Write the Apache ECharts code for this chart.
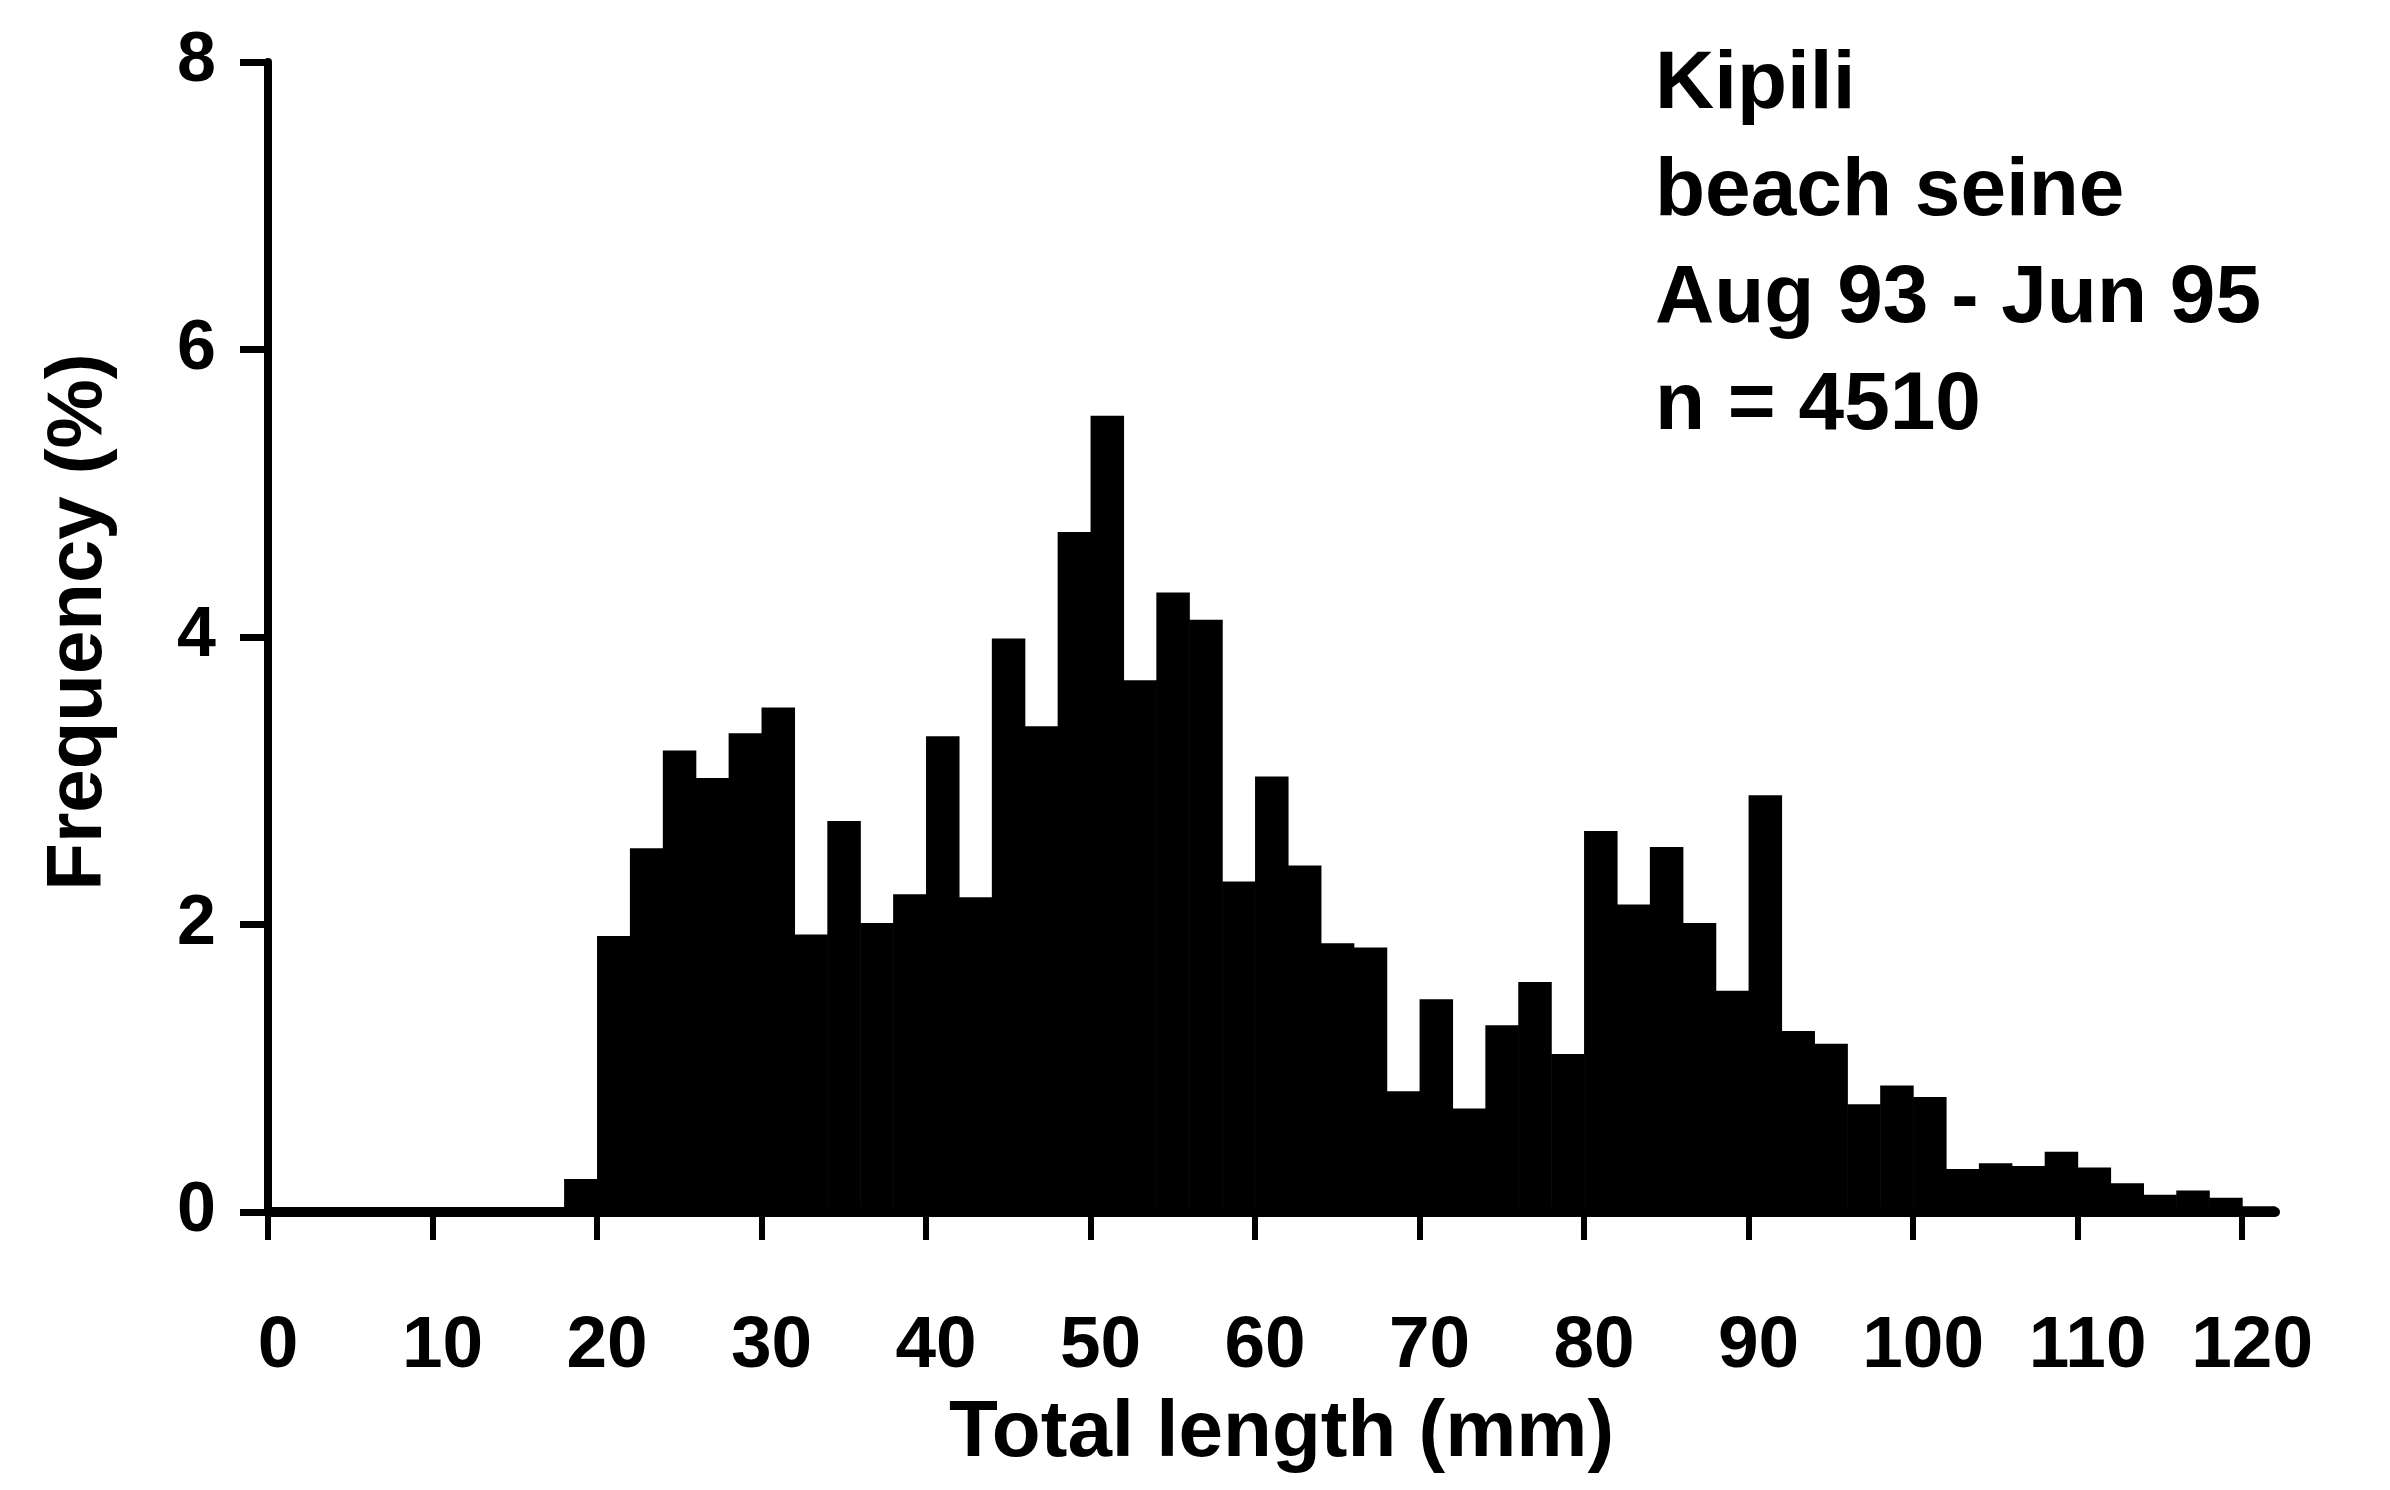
<!DOCTYPE html>
<html>
<head>
<meta charset="utf-8">
<script src="https://cdn.jsdelivr.net/npm/echarts@6/dist/echarts.min.js"></script>
<style>
html,body{margin:0;padding:0;background:#fff;}
#chart{width:2390px;height:1490px;}
</style>
</head>
<body>
<div id="chart"></div>
<script>
// Histogram bin starts (mm), bin width 2 mm
var binStarts = [0,2,4,6,8,10,12,14,16,18,20,22,24,26,28,30,32,34,36,38,40,42,44,46,48,50,52,54,56,58,60,62,64,66,68,70,72,74,76,78,80,82,84,86,88,90,92,94,96,98,100,102,104,106,108,110,112,114,116,118,120];
var binWidth = 2;
// Frequency (%) per bin
var frequency = [0,0,0,0,0,0,0,0,0,0.23,1.92,2.53,3.21,3.02,3.33,3.51,1.93,2.72,2.01,2.21,3.31,2.19,3.99,3.38,4.73,5.54,3.70,4.31,4.12,2.30,3.03,2.41,1.87,1.84,0.84,1.48,0.72,1.30,1.60,1.10,2.65,2.14,2.54,2.01,1.54,2.90,1.26,1.17,0.75,0.88,0.80,0.30,0.34,0.32,0.42,0.31,0.20,0.12,0.15,0.10,0.04];
var xTicks = [0,10,20,30,40,50,60,70,80,90,100,110,120];
var yTicks = [0,2,4,6,8];
var infoLines = ['Kipili','beach seine','Aug 93 - Jun 95','n = 4510'];

var FONT = 'Liberation Sans';
var data = binStarts.map(function(s,i){ return [s, s + binWidth, frequency[i]]; });

var chart = echarts.init(document.getElementById('chart'));
var infoGraphics = infoLines.map(function(t, i){
  return {
    type: 'text',
    left: 1655,
    top: 44 + i * 107,
    style: { text: t, font: 'bold 82px "' + FONT + '"', fill: '#000' }
  };
});

chart.setOption({
  animation: false,
  backgroundColor: '#fff',
  grid: { left: 268, right: 115, top: 62, bottom: 278, containLabel: false },
  xAxis: {
    type: 'value', min: 0, max: 122,
    name: 'Total length (mm)', nameLocation: 'middle', nameGap: 182,
    nameTextStyle: { fontFamily: FONT, fontWeight: 'bold', fontSize: 80, color: '#000', padding: [0, 0, 0, 20] },
    axisLine: { show: true, onZero: false, lineStyle: { color: '#000', width: 10 } },
    axisTick: { show: true, customValues: xTicks, length: 28, lineStyle: { color: '#000', width: 6 } },
    axisLabel: { customValues: xTicks, margin: 98, fontFamily: FONT, fontWeight: 'bold', fontSize: 73, color: '#000', padding: [0, 0, 0, 20] },
    splitLine: { show: false }
  },
  yAxis: {
    type: 'value', min: 0, max: 8, interval: 2,
    name: 'Frequency (%)', nameLocation: 'middle', nameGap: 150, nameRotate: 90,
    nameTextStyle: { fontFamily: FONT, fontWeight: 'bold', fontSize: 78, color: '#000', padding: [0, 0, 0, 30] },
    axisLine: { show: true, lineStyle: { color: '#000', width: 8 } },
    axisTick: { show: true, length: 28, lineStyle: { color: '#000', width: 7 } },
    axisLabel: { margin: 52, fontFamily: FONT, fontWeight: 'bold', fontSize: 70, color: '#000' },
    splitLine: { show: false }
  },
  graphic: infoGraphics,
  series: [{
    type: 'custom',
    data: data,
    encode: { x: [0, 1], y: 2 },
    renderItem: function(params, api){
      var p0 = api.coord([api.value(0), api.value(2)]);
      var p1 = api.coord([api.value(1), 0]);
      return {
        type: 'rect',
        shape: { x: p0[0], y: p0[1], width: p1[0] - p0[0] + 0.6, height: p1[1] - p0[1] },
        style: { fill: '#000', stroke: null }
      };
    },
    z: 1
  }]
});
</script>
</body>
</html>
